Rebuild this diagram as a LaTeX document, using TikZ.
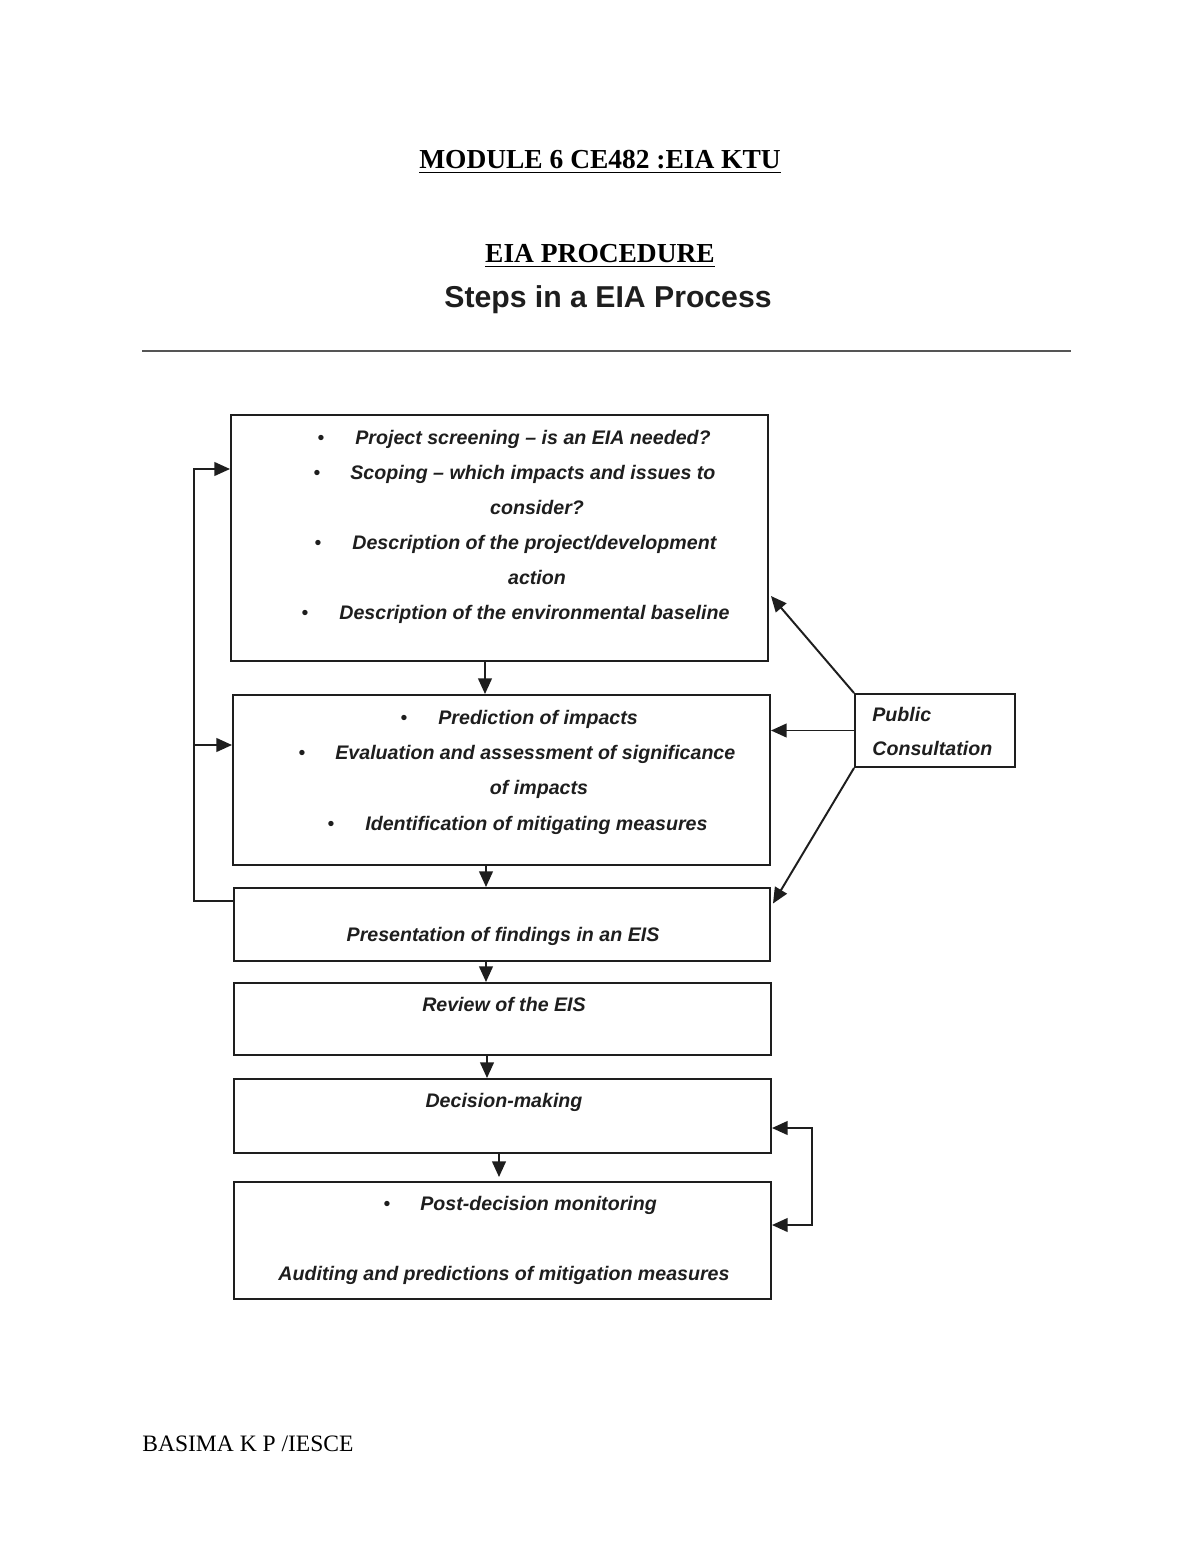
\documentclass[tikz,border=0pt]{standalone}
\usepackage{fontspec}
\setmainfont{Liberation Serif}
\newfontfamily\arialf[Ligatures=TeX]{Liberation Sans}
\usetikzlibrary{arrows.meta,fit,calc}
\definecolor{ink}{HTML}{1E1E1E}
\definecolor{rulegray}{HTML}{555555}
\begin{document}
\begin{tikzpicture}[x=0.51pt,y=-0.51pt,
  box/.style={draw=ink, line width=1pt, inner sep=0pt},
  txt/.style={font=\arialf\bfseries\itshape\fontsize{10}{12}\selectfont, text=ink, inner sep=0pt, anchor=base west},
  ctxt/.style={txt, anchor=base},
  bul/.style={font=\arialf\fontsize{10}{12}\selectfont, text=ink, inner sep=0pt, anchor=base},
  conn/.style={draw=ink, line width=1pt, -{Triangle[length=8pt,width=7pt]}},
  biconn/.style={draw=ink, line width=1pt, {Triangle[length=8pt,width=7pt]}-{Triangle[length=8pt,width=7pt]}},
  head/.style={font=\bfseries\fontsize{14}{16}\selectfont, inner sep=0pt, anchor=base},
]
\useasboundingbox (0,0) rectangle (1200,1553);
\fill[white] (0,0) rectangle (1200,1553);

% headings
\node[head] (title) at (600,169) {\underline{MODULE 6 CE482 :EIA KTU}};
\node[head] (proc) at (600,263) {\underline{EIA PROCEDURE}};
\node[font=\arialf\bfseries\fontsize{15.4}{18}\selectfont, text=ink, inner sep=0pt, anchor=base] (steps) at (608,307) {Steps in a EIA Process};
\coordinate (r1) at (142,351);
\coordinate (r2) at (1071,351);
\draw[rulegray, line width=1.5pt] (r1) -- (r2);

% boxes
\node[box, fit={(231,415) (768,661)}] (b1) {};
\node[box, fit={(233,695) (770,865)}] (b2) {};
\node[box, fit={(234,888) (770,961)}] (b3) {};
\node[box, fit={(234,983) (771,1055)}] (b4) {};
\node[box, fit={(234,1079) (771,1153)}] (b5) {};
\node[box, fit={(234,1182) (771,1299)}] (b6) {};
\node[box, fit={(855,694) (1015,767)}] (pc) {};

% box 1 text
\node[bul] (u11) at (321,444) {\textbullet};
\node[txt] (t11) at (355,444) {Project screening – is an EIA needed?};
\node[bul] (u12) at (317,479) {\textbullet};
\node[txt] (t12) at (350,479) {Scoping – which impacts and issues to};
\node[ctxt] (t13) at (537,514) {consider?};
\node[bul] (u14) at (318,549) {\textbullet};
\node[txt] (t14) at (352,549) {Description of the project/development};
\node[ctxt] (t15) at (537,584) {action};
\node[bul] (u16) at (305,619) {\textbullet};
\node[txt] (t16) at (339,619) {Description of the environmental baseline};

% box 2 text
\node[bul] (u21) at (404,724) {\textbullet};
\node[txt] (t21) at (438,724) {Prediction of impacts};
\node[bul] (u22) at (302,759) {\textbullet};
\node[txt] (t22) at (335,759) {Evaluation and assessment of significance};
\node[ctxt] (t23) at (539,794) {of impacts};
\node[bul] (u24) at (331,830) {\textbullet};
\node[txt] (t24) at (365,830) {Identification of mitigating measures};

% other box texts
\node[ctxt] (t3) at (503,941) {Presentation of findings in an EIS};
\node[ctxt] (t4) at (504,1011) {Review of the EIS};
\node[ctxt] (t5) at (504,1107) {Decision-making};
\node[bul] (u61) at (387,1210) {\textbullet};
\node[txt] (t61) at (420,1210) {Post-decision monitoring};
\node[ctxt] (t62) at (504,1280) {Auditing and predictions of mitigation measures};
\node[txt] (tp1) at (872,721) {Public};
\node[txt] (tp2) at (872,755) {Consultation};

% vertical flow
\draw[conn] ($(b1.south)+(-14.5,0)$) coordinate (a1) -- (a1 |- b2.north);
\draw[conn] ($(b2.south)+(-15.5,0)$) coordinate (a2) -- (a2 |- b3.north);
\draw[conn] ($(b3.south)+(-16,0)$) coordinate (a3) -- (a3 |- b4.north);
\draw[conn] ($(b4.south)+(-15.5,0)$) coordinate (a4) -- (a4 |- b5.north);
\draw[conn] ($(b5.south)+(-3.5,0)$) coordinate (a5) -- ($(a5 |- b6.north)+(0,-4)$);

% left feedback loop
\path ($(b1.west)+(0,-69)$) coordinate (e1);
\path ($(b2.west)+(0,-35)$) coordinate (e2);
\draw[conn] ($(b3.west)+(0,-23.5)$) coordinate (f0) -- ++(-39,0) coordinate (f1) |- (e1);
\draw[conn] (f1 |- e2) -- (e2);

% public consultation
\draw[conn] (pc.north west) -- ($(b1.east)+(2,58)$);
\draw[conn] (pc.west) -- (pc.west -| b2.east);
\draw[conn] (pc.south west) -- ($(b3.east)+(2,-21)$);

% right loop
\draw[biconn] ($(b5.east)+(0,12)$) -- ++(40,0) |- ($(b6.east)+(0,-15.5)$);

% footer
\node[font=\fontsize{12}{14}\selectfont, inner sep=0pt, anchor=base west] (foot) at (142,1451) {BASIMA K P /IESCE};
\end{tikzpicture}
\end{document}
